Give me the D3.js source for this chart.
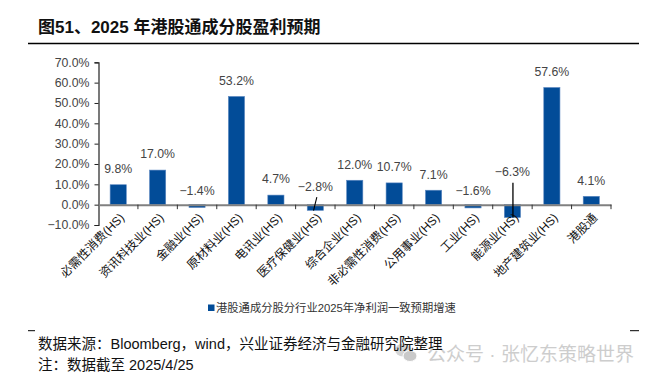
<!DOCTYPE html>
<html><head><meta charset="utf-8">
<script src="https://cdn.jsdelivr.net/npm/d3@7"></script>
<style>
html,body{margin:0;padding:0;background:#fff;}
svg{display:block;font-family:"Liberation Sans","Noto Sans CJK SC",Arial,sans-serif;}
</style></head>
<body>
<svg id="c" width="655" height="380"></svg>
<script>
const categories = ["必需性消费(HS)","资讯科技业(HS)","金融业(HS)","原材料业(HS)","电讯业(HS)","医疗保健业(HS)","综合企业(HS)","非必需性消费(HS)","公用事业(HS)","工业(HS)","能源业(HS)","地产建筑业(HS)","港股通"];
const values = [9.8,17.0,-1.4,53.2,4.7,-2.8,12.0,10.7,7.1,-1.6,-6.3,57.6,4.1];
const yTicks = [-10,0,10,20,30,40,50,60,70];
const seriesName = "港股通成分股分行业2025年净利润一致预期增速";
const title = "图51、2025 年港股通成分股盈利预期";
const source = "数据来源：Bloomberg，wind，兴业证券经济与金融研究院整理";
const note = "注：数据截至 2025/4/25";
const watermark = "公众号 · 张忆东策略世界";

const svg = d3.select("#c");
const fmt = v => (v < 0 ? "\u2212" : "") + Math.abs(v).toFixed(1) + "%";

// title
svg.append("text").attr("x",38).attr("y",33).attr("font-size",17).attr("font-weight","bold")
  .attr("fill","#111").text(title);
svg.append("line").attr("x1",28).attr("x2",639).attr("y1",43.5).attr("y2",43.5)
  .attr("stroke","#000").attr("stroke-width",1.6);

const y = d3.scaleLinear().domain([-10,70]).range([225,62.3]);
const x = d3.scaleBand().domain(categories).range([98.5,611]).padding(0);
const bw = x.bandwidth()*0.41;

// y axis
const yAxis = d3.axisLeft(y).tickValues(yTicks).tickSize(4).tickPadding(5).tickFormat(fmt);
const gy = svg.append("g").attr("transform","translate(98.5,0)").call(yAxis);
gy.select(".domain").attr("stroke","#222").attr("stroke-width",1.2);
gy.selectAll(".tick line").attr("stroke","#222");
gy.selectAll(".tick text").attr("font-size",12.3).attr("fill","#444")
  .attr("font-family","Liberation Sans, Arial, sans-serif");

// bars
svg.append("g").selectAll("rect").data(values).join("rect")
  .attr("x",(d,i)=>x(categories[i])+x.bandwidth()/2-bw/2)
  .attr("width",bw)
  .attr("y",d=>Math.min(y(d),y(0)))
  .attr("height",d=>Math.abs(y(d)-y(0)))
  .attr("fill","#024C98").attr("stroke","#5b87c0").attr("stroke-width",0.6);

// zero axis
const xAxis = d3.axisBottom(x).tickSize(0).tickFormat("");
const gx = svg.append("g").attr("transform",`translate(0,${y(0)})`).call(xAxis);
gx.select(".domain").attr("stroke","#808080").attr("stroke-width",2);
const bounds = categories.map(c=>x(c)).concat([x.range()[1]]).slice(1);
svg.append("g").selectAll("line").data(bounds).join("line")
  .attr("x1",d=>d).attr("x2",d=>d).attr("y1",y(0)).attr("y2",y(0)+4.5)
  .attr("stroke","#333").attr("stroke-width",1);

// category labels
svg.append("g").selectAll("text").data(categories).join("text")
  .attr("transform",c=>`translate(${x(c)+x.bandwidth()/2+4},${y(0)+11}) rotate(-45)`)
  .attr("text-anchor","end").attr("dominant-baseline","central")
  .attr("font-size",12).attr("fill","#111").text(c=>c);

// value labels
const special = {"医疗保健业(HS)":"slant","能源业(HS)":"vert"};
const lab = svg.append("g");
values.forEach((v,i)=>{
  const c = categories[i];
  const cx = x(c)+x.bandwidth()/2;
  let cy = v >= 0 ? y(v)-15.7 : y(0)-14;
  if (special[c]==="slant") {
    cy = y(0)-17.4;
    lab.append("line").attr("x1",cx+1.5).attr("y1",y(0)-7.5).attr("x2",cx-1.8).attr("y2",y(0)+6)
      .attr("stroke","#000").attr("stroke-width",1.1);
  }
  if (special[c]==="vert") {
    cy = y(0)-32.7;
    lab.append("line").attr("x1",cx+0.5).attr("x2",cx+0.5).attr("y1",y(0)-22).attr("y2",y(v))
      .attr("stroke","#000").attr("stroke-width",1.3);
  }
  lab.append("text").attr("x",cx).attr("y",cy).attr("text-anchor","middle")
    .attr("dominant-baseline","central").attr("font-size",12.3).attr("fill","#444")
    .text(fmt(v));
});

// legend
svg.append("rect").attr("x",208).attr("y",304.5).attr("width",6.5).attr("height",6.5).attr("fill","#024C98");
svg.append("text").attr("x",216).attr("y",308).attr("dominant-baseline","central")
  .attr("font-size",11.3).attr("fill","#333").text(seriesName);

// footer
svg.append("line").attr("x1",28).attr("x2",35).attr("y1",330.7).attr("y2",330.7).attr("stroke","#000").attr("stroke-width",1);
svg.append("line").attr("x1",630).attr("x2",639).attr("y1",330.7).attr("y2",330.7).attr("stroke","#000").attr("stroke-width",1);

// watermark
const wm = svg.append("g").attr("opacity",0.75);
wm.append("ellipse").attr("cx",403).attr("cy",350).attr("rx",8).attr("ry",6.5).attr("fill","#c8c8c8");
wm.append("ellipse").attr("cx",410).attr("cy",356).attr("rx",7).attr("ry",5.5).attr("fill","#b8b8b8").attr("stroke","#fff").attr("stroke-width",1);
wm.append("text").attr("x",427).attr("y",354).attr("dominant-baseline","central")
  .attr("font-size",19).attr("fill","#bdbdbd").text(watermark);

svg.append("text").attr("x",38).attr("y",344).attr("dominant-baseline","central")
  .attr("font-size",14.5).attr("fill","#111").text(source);
svg.append("text").attr("x",38).attr("y",365).attr("dominant-baseline","central")
  .attr("font-size",14.5).attr("fill","#111").text(note);
</script>
</body></html>
